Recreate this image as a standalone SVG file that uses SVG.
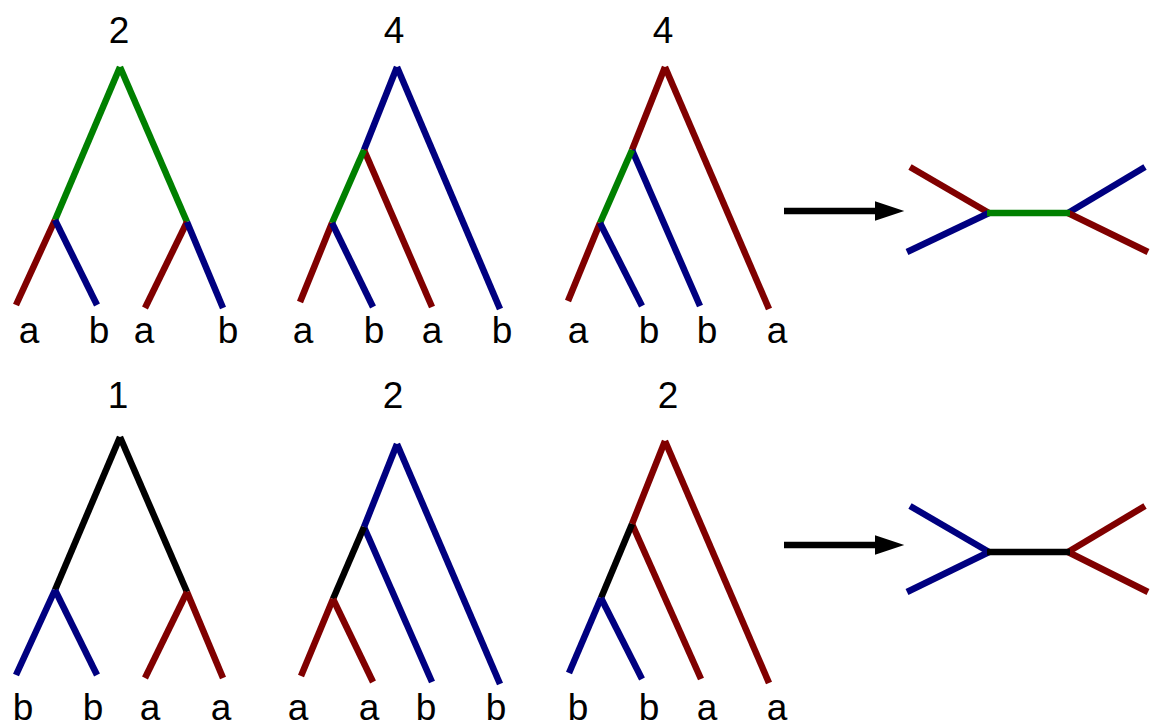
<svg xmlns="http://www.w3.org/2000/svg" width="1152" height="727" viewBox="0 0 1152 727">
<style>
line{stroke-width:6.5;stroke-linecap:butt;fill:none}
.g{stroke:#008000}.r{stroke:#800000}.b{stroke:#000080}.k{stroke:#000000}
text{font-family:"Liberation Sans",Arial,sans-serif;font-size:37px;fill:#000;text-anchor:middle}
</style>
<defs>
<marker id="ah" markerWidth="5" markerHeight="3" refX="0" refY="1.5" orient="auto" markerUnits="strokeWidth">
<path d="M0,0 L4.5,1.5 L0,3 z" fill="#000"/>
</marker>
</defs>
<rect width="1152" height="727" fill="#fff"/>
<g id="tree1">
<line class="g" x1="120" y1="67" x2="55" y2="220"/>
<line class="g" x1="120" y1="67" x2="187" y2="222"/>
<line class="r" x1="55" y1="220" x2="16" y2="305"/>
<line class="b" x1="55" y1="220" x2="97" y2="305"/>
<line class="r" x1="187" y1="222" x2="145" y2="308"/>
<line class="b" x1="187" y1="222" x2="223" y2="308"/>
<text x="119" y="43">2</text>
<text x="29" y="343">a</text><text x="99" y="343">b</text><text x="144" y="343">a</text><text x="228" y="343">b</text>
</g>
<g id="tree2">
<line class="b" x1="397" y1="67" x2="364" y2="150"/>
<line class="b" x1="397" y1="67" x2="500" y2="309"/>
<line class="r" x1="364" y1="150" x2="432" y2="307"/>
<line class="g" x1="364" y1="150" x2="332" y2="223"/>
<line class="r" x1="332" y1="223" x2="300" y2="302"/>
<line class="b" x1="332" y1="223" x2="373" y2="307"/>
<text x="394" y="43">4</text>
<text x="303" y="343">a</text><text x="374" y="343">b</text><text x="432" y="343">a</text><text x="502" y="343">b</text>
</g>
<g id="tree3">
<line class="r" x1="665" y1="67" x2="632" y2="150"/>
<line class="r" x1="665" y1="67" x2="769" y2="309"/>
<line class="b" x1="632" y1="150" x2="700" y2="306"/>
<line class="g" x1="632" y1="150" x2="600" y2="223"/>
<line class="r" x1="600" y1="223" x2="568" y2="301"/>
<line class="b" x1="600" y1="223" x2="642" y2="306"/>
<text x="663" y="43">4</text>
<text x="578" y="343">a</text><text x="649" y="343">b</text><text x="707" y="343">b</text><text x="777" y="343">a</text>
</g>
<g id="unrooted1">
<line class="r" x1="910" y1="167" x2="989" y2="213"/>
<line class="b" x1="907" y1="252" x2="989" y2="213"/>
<line class="b" x1="1068" y1="213" x2="1145" y2="167"/>
<line class="r" x1="1068" y1="213" x2="1148" y2="252"/>
<line class="g" x1="987" y1="213" x2="1070" y2="213"/>
</g>
<g id="tree4">
<line class="k" x1="120" y1="437" x2="55" y2="590"/>
<line class="k" x1="120" y1="437" x2="187" y2="592"/>
<line class="b" x1="55" y1="590" x2="16" y2="675"/>
<line class="b" x1="55" y1="590" x2="97" y2="675"/>
<line class="r" x1="187" y1="592" x2="145" y2="678"/>
<line class="r" x1="187" y1="592" x2="223" y2="678"/>
<text x="118" y="408">1</text>
<text x="23" y="720">b</text><text x="93" y="720">b</text><text x="150" y="720">a</text><text x="221" y="720">a</text>
</g>
<g id="tree5">
<line class="b" x1="397" y1="444" x2="364" y2="527"/>
<line class="b" x1="397" y1="444" x2="500" y2="684"/>
<line class="b" x1="364" y1="527" x2="432" y2="682"/>
<line class="k" x1="364" y1="527" x2="333" y2="599"/>
<line class="r" x1="333" y1="599" x2="301" y2="676"/>
<line class="r" x1="333" y1="599" x2="373" y2="682"/>
<text x="393" y="408">2</text>
<text x="298" y="720">a</text><text x="369" y="720">a</text><text x="426" y="720">b</text><text x="496" y="720">b</text>
</g>
<g id="tree6">
<line class="r" x1="665" y1="441" x2="632" y2="524"/>
<line class="r" x1="665" y1="441" x2="769" y2="683"/>
<line class="r" x1="632" y1="524" x2="701" y2="679"/>
<line class="k" x1="632" y1="524" x2="601" y2="598"/>
<line class="b" x1="601" y1="598" x2="569" y2="673"/>
<line class="b" x1="601" y1="598" x2="642" y2="679"/>
<text x="668" y="408">2</text>
<text x="578" y="720">b</text><text x="649" y="720">b</text><text x="707" y="720">a</text><text x="777" y="720">a</text>
</g>
<g id="unrooted2">
<line class="b" x1="910" y1="506" x2="989" y2="552"/>
<line class="b" x1="907" y1="592" x2="989" y2="552"/>
<line class="r" x1="1068" y1="552" x2="1145" y2="506"/>
<line class="r" x1="1068" y1="552" x2="1148" y2="592"/>
<line class="k" x1="987" y1="552" x2="1070" y2="552"/>
</g>
<g id="connectors">
<line class="k" x1="784" y1="211" x2="875" y2="211" marker-end="url(#ah)"/>
<line class="k" x1="784" y1="545" x2="875" y2="545" marker-end="url(#ah)"/>
</g>
</svg>
